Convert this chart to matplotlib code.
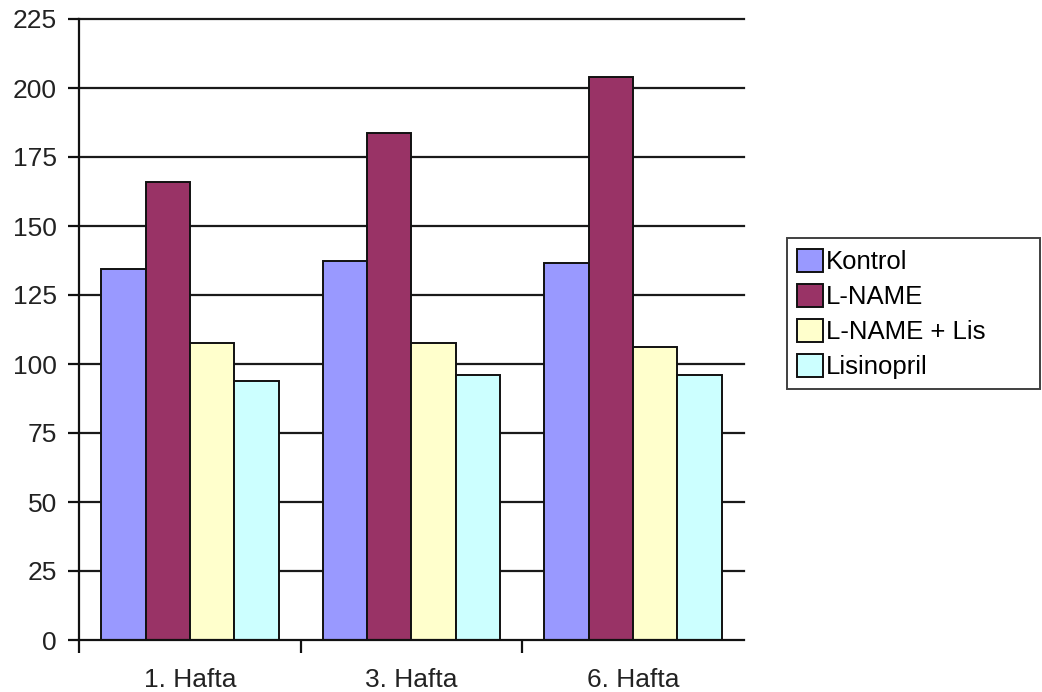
import matplotlib
matplotlib.use("Agg")
import matplotlib.pyplot as plt
import numpy as np

plt.rcParams['font.family'] = ['Liberation Sans', 'DejaVu Sans']

categories = ["1. Hafta", "3. Hafta", "6. Hafta"]
series_names = ["Kontrol", "L-NAME", "L-NAME + Lis", "Lisinopril"]
kontrol = [134.5, 137.2, 136.6]
l_name = [165.8, 183.8, 204.1]
l_name_lis = [107.6, 107.5, 106.0]
lisinopril = [93.9, 96.0, 96.0]
yticks = [0, 25, 50, 75, 100, 125, 150, 175, 200, 225]

values = [kontrol, l_name, l_name_lis, lisinopril]
colors = ["#9999FF", "#993366", "#FFFFCC", "#CCFFFF"]

fig = plt.figure(figsize=(10.42, 6.92), dpi=100)
ax = fig.add_axes([79/1042, 1 - 640/692, (744-79)/1042, (640-19)/692])

x = np.arange(len(categories))
width = 0.2
offsets = [-1.5, -0.5, 0.5, 1.5]
for yv in yticks[1:]:
    ax.axhline(yv, color="#1a1a1a", lw=1.6, zorder=1, clip_on=False)
for vals, name, c, off in zip(values, series_names, colors, offsets):
    ax.bar(x + off*width, vals, width, color=c, edgecolor="#111111", linewidth=1.4,
           label=name, zorder=2)

ax.set_xlim(-0.5, 2.5)
ax.set_ylim(0, 225)
ax.set_yticks(yticks)
ax.set_xticks(x)
ax.set_xticklabels(categories)
ax.set_xticks([-0.5, 0.5, 1.5], minor=True)
ax.tick_params(axis='x', which='major', length=0, pad=20, labelsize=19, colors='#222222')
ax.tick_params(axis='x', which='minor', length=9.5, width=1.6, color='#111111')
ax.tick_params(axis='y', length=8, width=1.6, pad=8, labelsize=19, colors='#111111',
               labelcolor='#222222')
for s in ['top', 'right']:
    ax.spines[s].set_visible(False)
for s in ['left', 'bottom']:
    ax.spines[s].set_linewidth(1.6)
    ax.spines[s].set_color('#111111')

leg = fig.legend(loc='upper left', bbox_to_anchor=(787/1042, 1 - 239/692, (1040-787)/1042, 0.001),
                 mode='expand', fontsize=18.5, frameon=True, fancybox=False,
                 edgecolor='#111111', handlelength=1.0, handleheight=1.0,
                 handletextpad=0.1, labelspacing=0.38, borderpad=0.4, borderaxespad=0)
leg.get_frame().set_linewidth(1.4)
for h in leg.legend_handles:
    h.set_edgecolor('#111111')
    h.set_linewidth(1.4)

fig.savefig("out.png", dpi=100, facecolor='white')
